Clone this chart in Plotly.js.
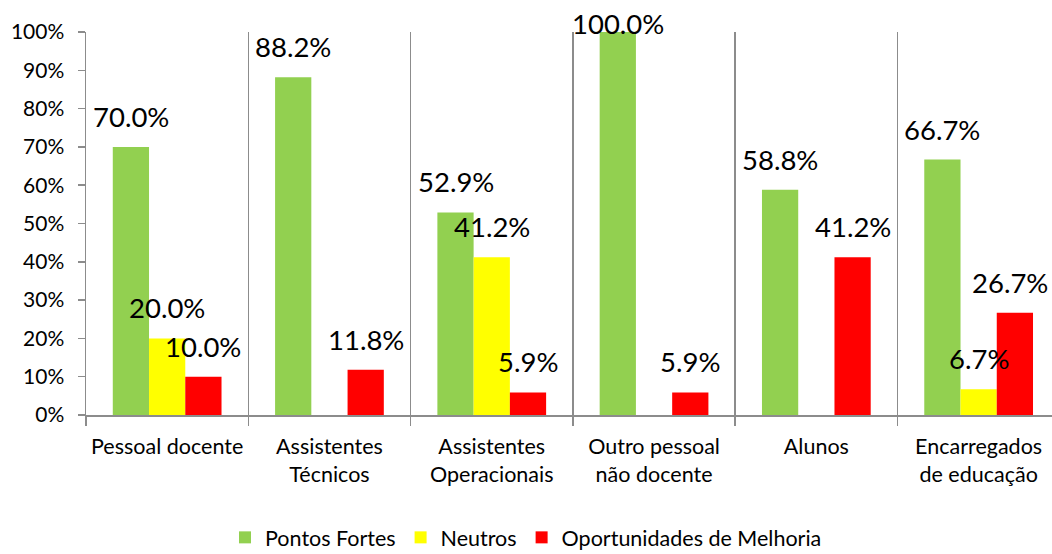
<!DOCTYPE html>
<html>
<head>
<meta charset="utf-8">
<script src="https://cdn.plot.ly/plotly-3.0.1.min.js"></script>
<style>html,body{margin:0;padding:0;background:#fff;}#chart{width:1052px;height:554px;}</style>
</head>
<body>
<div id="chart"></div>
<script>
var categories = ["Pessoal docente", "Assistentes<br>Técnicos", "Assistentes<br>Operacionais", "Outro pessoal<br>não docente", "Alunos", "Encarregados<br>de educação"];
var pontosFortes = [0.700, 0.882, 0.529, 1.000, 0.588, 0.667];
var neutros = [0.200, null, 0.412, null, null, 0.067];
var oportunidades = [0.100, 0.118, 0.059, 0.059, 0.412, 0.267];
var seriesNames = ["Pontos Fortes", "Neutros", "Oportunidades de Melhoria"];
var seriesColors = ["#92D050", "#FFFF00", "#FF0000"];

var FONT = "Lato, 'Open Sans', sans-serif";
var allSeries = [pontosFortes, neutros, oportunidades];
var bargap = 0.33;
var barW = (1 - bargap) / 3;

var traces = allSeries.map(function (vals, k) {
  return {
    type: "bar",
    name: seriesNames[k],
    x: categories,
    y: vals,
    marker: {color: seriesColors[k], line: {width: 0}},
    hoverinfo: "none"
  };
});

var annotations = [];
allSeries.forEach(function (vals, k) {
  vals.forEach(function (v, i) {
    if (v === null) return;
    var a = {
      xref: "x", yref: "y",
      x: i + (k - 1) * barW,
      y: v,
      text: (v * 100).toFixed(1) + "%",
      showarrow: false,
      xanchor: "center",
      yanchor: "bottom",
      yshift: 12,
      font: {family: FONT, size: 27.5, color: "#000"}
    };
    if (v > 0.93) { a.y = 1; a.yanchor = "top"; a.yshift = 27; }
    if (i === vals.length - 1 && k === 2) { a.xshift = -5; }
    annotations.push(a);
  });
});

var layout = {
  width: 1052, height: 554,
  margin: {l: 86, r: 0, t: 32, b: 139},
  paper_bgcolor: "#fff", plot_bgcolor: "#fff",
  barmode: "group",
  bargap: bargap,
  bargroupgap: 0,
  font: {family: FONT, size: 21, color: "#000"},
  showlegend: true,
  legend: {
    orientation: "h",
    xref: "container", yref: "container",
    x: 0.5, xanchor: "center",
    y: 0.03, yanchor: "middle",
    font: {family: FONT, size: 21.5, color: "#000"},
    itemclick: false,
    itemwidth: 30,
    traceorder: "normal"
  },
  xaxis: {
    type: "category",
    range: [-0.5, 5.452],
    tickson: "boundaries",
    showgrid: true, gridcolor: "#8c8c8c", gridwidth: 1.5,
    ticks: "outside", ticklen: 9, tickcolor: "#8c8c8c", tickwidth: 1.5,
    showline: true, linecolor: "#8c8c8c", linewidth: 1.5,
    tickfont: {family: FONT, size: 21.5, color: "#000"},
    ticklabelstandoff: 12,
    fixedrange: true
  },
  yaxis: {
    range: [0, 1],
    dtick: 0.1,
    tickformat: ".0%",
    showgrid: false, zeroline: false,
    ticks: "outside", ticklen: 7, tickcolor: "#8c8c8c", tickwidth: 1.5,
    showline: true, linecolor: "#8c8c8c", linewidth: 1.5,
    tickfont: {family: FONT, size: 21, color: "#000"},
    ticklabelstandoff: 9,
    fixedrange: true
  },
  annotations: annotations
};

Plotly.newPlot("chart", traces, layout, {displayModeBar: false, staticPlot: true});
</script>
</body>
</html>
